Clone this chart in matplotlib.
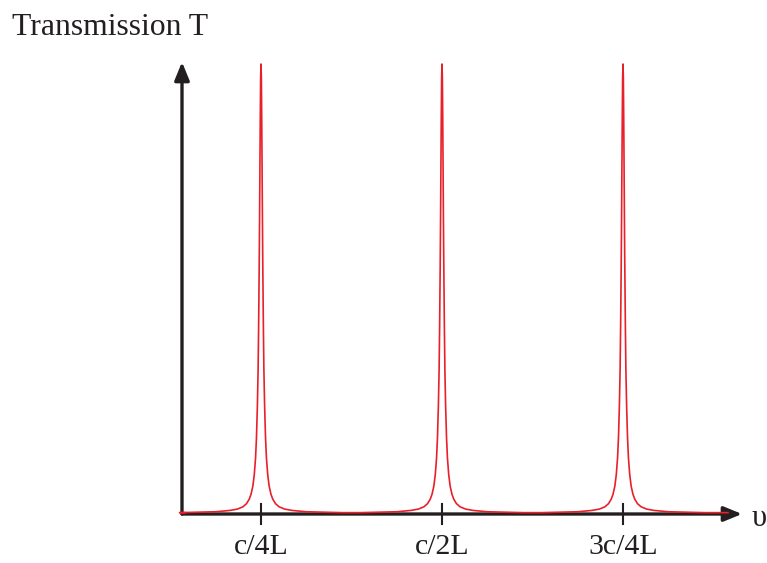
import matplotlib.pyplot as plt
import numpy as np

# peak positions in units of c/4L, and tick labels
peak_pos = [1.0, 2.0, 3.0]
tick_labels = ["c/4L", "c/2L", "3c/4L"]

# right half of one peak: offset from centre (c/4L units) -> T
half_dx = [0.0, 0.002, 0.004, 0.006, 0.008, 0.010, 0.013, 0.016, 0.020, 0.025,
           0.030, 0.037, 0.045, 0.055, 0.065, 0.08, 0.10, 0.13, 0.17, 0.25, 0.45]
half_T = [1.0, 0.97, 0.88, 0.77, 0.65, 0.55, 0.42, 0.32, 0.24, 0.17,
          0.125, 0.088, 0.062, 0.044, 0.033, 0.023, 0.016, 0.011, 0.008, 0.005, 0.003]

x_start, x_end = 0.58, 3.58
base_T = 0.003

# mirror the half profile and place it at each peak
profile_dx = [-d for d in half_dx[::-1]] + half_dx[1:]
profile_T = half_T[::-1] + half_T[1:]
xs = [x_start]
ys = [base_T]
for p in peak_pos:
    for dx, t in zip(profile_dx, profile_T):
        xs.append(p + dx)
        ys.append(t)
xs.append(x_end)
ys.append(base_T)

W, H = 767, 563
fig = plt.figure(figsize=(W / 100, H / 100), dpi=100)
# axes box: origin at pixel (182, 514), top at y=62, right at x=742
ax = fig.add_axes([182 / W, (H - 514) / H, (742 - 182) / W, (514 - 62) / H])
x0 = 1 - 79 / 181
x1 = 3 + 119 / 181
ax.set_xlim(x0, x1)
ax.set_ylim(0, 452 / 450)
ax.axis("off")

red = "#e8202a"
dark = "#231f20"
ax.plot(xs, ys, color=red, lw=1.2, zorder=3, clip_on=False)

# axes with arrow heads
ax.annotate("", xy=(x1, 0), xytext=(x0, 0),
            arrowprops=dict(arrowstyle="-|>,head_length=1.1,head_width=0.45",
                            color=dark, lw=2.4, shrinkA=0, shrinkB=0),
            annotation_clip=False, zorder=2)
ax.annotate("", xy=(x0, 452 / 450), xytext=(x0, 0),
            arrowprops=dict(arrowstyle="-|>,head_length=1.1,head_width=0.45",
                            color=dark, lw=2.4, shrinkA=0, shrinkB=0),
            annotation_clip=False, zorder=2)

# tick marks and labels
for p, lab in zip(peak_pos, tick_labels):
    ax.plot([p, p], [-10 / 450, 10 / 450], color=dark, lw=1.5, clip_on=False, zorder=2)
    ax.text(p, -40 / 450, lab, ha="center", va="baseline", fontsize=21.5,
            family="Liberation Serif", color=dark)

fig.text(12 / W, 1 - 35 / H, "Transmission T", ha="left", va="baseline",
         fontsize=22.8, family="Liberation Serif", color=dark)
fig.text(752 / W, 1 - 518 / H, "υ", ha="left", va="center",
         fontsize=22, family="Liberation Serif", color=dark)

fig.savefig("out.png", dpi=100)
